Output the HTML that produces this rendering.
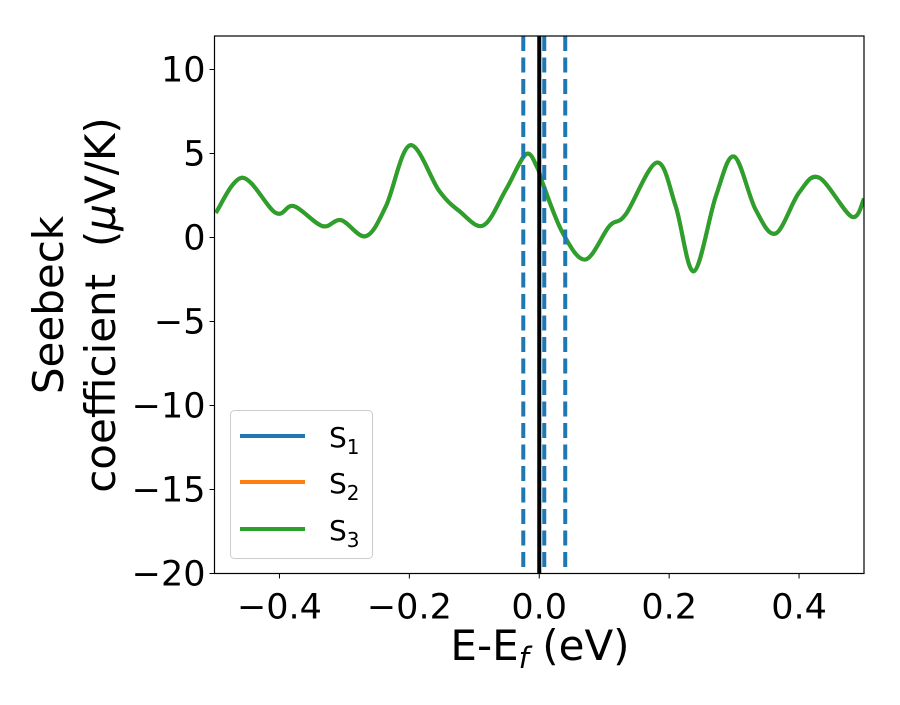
<!DOCTYPE html>
<html><head><meta charset="utf-8"><style>
body{margin:0;background:#fff;}
svg text{font-family:"DejaVu Sans","Liberation Sans",sans-serif;}
</style></head><body>
<svg id="chart" width="900" height="700" viewBox="0 0 900 700" xmlns="http://www.w3.org/2000/svg">
<rect width="900" height="700" fill="#fff"/>
<g id="plot"></g>
</svg>
<script>
const xs = [-0.498,-0.457,-0.406,-0.378,-0.334,-0.305,-0.267,-0.236,-0.199,-0.154,-0.123,-0.086,-0.051,-0.0205,-0.003,0.005,0.036,0.071,0.108,0.133,0.181,0.21,0.238,0.272,0.3,0.333,0.364,0.4,0.431,0.481,0.5];
const s3 = [1.47,3.56,1.47,1.87,0.68,1.03,0.08,1.87,5.49,2.77,1.57,0.72,2.87,4.96,4.16,3.26,0.28,-1.31,0.68,1.37,4.46,1.87,-2.01,2.47,4.82,1.67,0.24,2.67,3.56,1.24,2.3];
const s1 = s3.slice();
const s2 = s3.slice();
const xTicks = [-0.4,-0.2,0.0,0.2,0.4];
const xTickLabels = ["\u22120.4","\u22120.2","0.0","0.2","0.4"];
const yTicks = [10,5,0,-5,-10,-15,-20];
const yTickLabels = ["10","5","0","\u22125","\u221210","\u221215","\u221220"];
const vDashed = [-0.0246,0.0077,0.04];
const vSolid = [0];

const L=214.5,R=864,T=36,B=573.5;
const X=v=>L+(v+0.5)*(R-L);
const Y=v=>237.5-v*16.8;
const NS="http://www.w3.org/2000/svg";
const g=document.getElementById('plot');
function mk(tag,attrs,parent){const e=document.createElementNS(NS,tag);for(const k in attrs)e.setAttribute(k,attrs[k]);(parent||g).appendChild(e);return e;}
const defs=mk('defs',{});const cp=mk('clipPath',{id:'clip'},defs);mk('rect',{x:L,y:T,width:R-L,height:B-T},cp);
function pathD(xv,yv){
  const p=xv.map((x,i)=>[X(x),Y(yv[i])]);
  let d=`M${p[0][0]},${p[0][1]}`;
  for(let i=0;i<p.length-1;i++){
    const p0=p[Math.max(0,i-1)],p1=p[i],p2=p[i+1],p3=p[Math.min(p.length-1,i+2)];
    const c1=[p1[0]+(p2[0]-p0[0])/6,p1[1]+(p2[1]-p0[1])/6];
    const c2=[p2[0]-(p3[0]-p1[0])/6,p2[1]-(p3[1]-p1[1])/6];
    d+=` C${c1[0]},${c1[1]} ${c2[0]},${c2[1]} ${p2[0]},${p2[1]}`;
  }
  return d;
}
const series=[[s1,'#1f77b4','s1'],[s2,'#ff7f0e','s2'],[s3,'#2ca02c','s3']];
series.forEach(([d,c,n])=>{
  const e=mk('path',{d:pathD(xs,d),fill:'none',stroke:c,'stroke-width':4,'clip-path':'url(#clip)'});
  
  
});
vDashed.forEach((v,i)=>{
  const e=mk('line',{x1:X(v),x2:X(v),y1:T,y2:B,stroke:'#1f77b4','stroke-width':4,'stroke-dasharray':'15,6.5'});
  
  
});
vSolid.forEach(v=>{
  const e=mk('line',{x1:X(v),x2:X(v),y1:T,y2:B,stroke:'#000','stroke-width':4});
  
  
});
const fr=mk('rect',{x:L,y:T,width:R-L,height:B-T,fill:'none',stroke:'#000','stroke-width':1.2});


xTicks.forEach((v,i)=>{
  mk('line',{x1:X(v),x2:X(v),y1:B,y2:B+5,stroke:'#000','stroke-width':1});
  const t=mk('text',{x:X(v),y:B+45,'text-anchor':'middle','font-size':35,fill:'#000'});
  t.textContent=xTickLabels[i];
  
  
});
yTicks.forEach((v,i)=>{
  mk('line',{x1:L-5,x2:L,y1:Y(v),y2:Y(v),stroke:'#000','stroke-width':1});
  const t=mk('text',{x:L-9,y:Y(v)+12,'text-anchor':'end','font-size':35,fill:'#000'});
  t.textContent=yTickLabels[i];
  
  
});
</script>
<svg width="900" height="700" style="position:absolute;left:0;top:0" xmlns="http://www.w3.org/2000/svg">
<text x="540" y="660" text-anchor="middle" font-size="42" font-family="DejaVu Sans, Liberation Sans, sans-serif">E-E<tspan font-size="29" dy="8" font-style="italic">f</tspan><tspan dy="-8"> (eV)</tspan></text>
<g transform="translate(63,305) rotate(-90)">
<text x="0" y="0" text-anchor="middle" font-size="42" font-family="DejaVu Sans, Liberation Sans, sans-serif">Seebeck</text>
<text x="0" y="52" text-anchor="middle" font-size="42" font-family="DejaVu Sans, Liberation Sans, sans-serif" style="white-space:pre">coefficient  (<tspan font-style="italic">μ</tspan>V/K)</text>
</g>
<g>
<rect x="230.5" y="410.5" width="142" height="148" rx="4" fill="#fff" fill-opacity="0.8" stroke="#ccc" stroke-width="1"/>
<line x1="240" x2="305" y1="436" y2="436" stroke="#1f77b4" stroke-width="4"/>
<line x1="240" x2="305" y1="482" y2="482" stroke="#ff7f0e" stroke-width="4"/>
<line x1="240" x2="305" y1="529" y2="529" stroke="#2ca02c" stroke-width="4"/>
<text x="329" y="447" font-size="28" font-family="DejaVu Sans, Liberation Sans, sans-serif">S<tspan font-size="20" dy="7">1</tspan></text>
<text x="329" y="493" font-size="28" font-family="DejaVu Sans, Liberation Sans, sans-serif">S<tspan font-size="20" dy="7">2</tspan></text>
<text x="329" y="540" font-size="28" font-family="DejaVu Sans, Liberation Sans, sans-serif">S<tspan font-size="20" dy="7">3</tspan></text>
</g>
</svg>
</body></html>
